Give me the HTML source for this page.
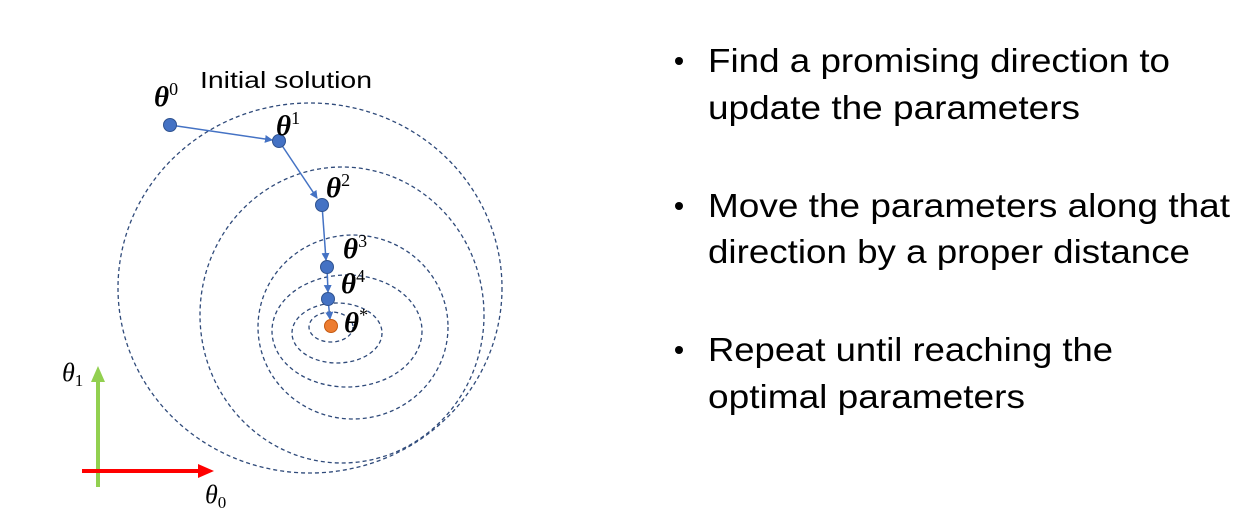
<!DOCTYPE html>
<html><head><meta charset="utf-8"><style>
html,body{margin:0;padding:0;background:#fff;}
svg{display:block;}
</style></head><body>
<svg width="1250" height="525" viewBox="0 0 1250 525" xmlns="http://www.w3.org/2000/svg">
<defs>
<marker id="ab" markerWidth="8" markerHeight="8" refX="7" refY="4" orient="auto" markerUnits="userSpaceOnUse"><path d="M0,0 L8,4 L0,8 z" fill="#4472C4"/></marker>
</defs>
<g fill="none" stroke="#2F4A7A" stroke-width="1.3" stroke-dasharray="4,3">
<ellipse cx="310" cy="288" rx="192" ry="185"/>
<ellipse cx="342" cy="315" rx="142" ry="148"/>
<ellipse cx="353" cy="327" rx="95" ry="92"/>
<ellipse cx="347" cy="331" rx="75" ry="56"/>
<ellipse cx="337" cy="333" rx="45" ry="30"/>
<ellipse cx="331" cy="327" rx="22" ry="15"/>
</g>
<g stroke="#4472C4" stroke-width="1.5" fill="none" marker-end="url(#ab)">
<line x1="170" y1="125" x2="272" y2="140"/>
<line x1="279" y1="141" x2="317" y2="198"/>
<line x1="322" y1="205" x2="326" y2="260"/>
<line x1="327" y1="267" x2="328" y2="292"/>
<line x1="328" y1="299" x2="330" y2="319"/>
</g>
<g fill="#4472C4" stroke="#2F528F" stroke-width="1">
<circle cx="170" cy="125" r="6.5"/>
<circle cx="279" cy="141" r="6.5"/>
<circle cx="322" cy="205" r="6.5"/>
<circle cx="327" cy="267" r="6.5"/>
<circle cx="328" cy="299" r="6.5"/>
</g>
<circle cx="331" cy="326" r="6.5" fill="#ED7D31" stroke="#C55A11" stroke-width="1"/>
<g font-family="Liberation Serif, serif" font-weight="bold" font-style="italic" font-size="29" fill="#000">
<text x="154" y="106">θ<tspan font-size="18" font-weight="normal" font-style="normal" dy="-11">0</tspan></text>
<text x="276" y="135">θ<tspan font-size="18" font-weight="normal" font-style="normal" dy="-11">1</tspan></text>
<text x="326" y="197">θ<tspan font-size="18" font-weight="normal" font-style="normal" dy="-11">2</tspan></text>
<text x="343" y="258">θ<tspan font-size="18" font-weight="normal" font-style="normal" dy="-11">3</tspan></text>
<text x="341" y="293">θ<tspan font-size="18" font-weight="normal" font-style="normal" dy="-11">4</tspan></text>
<text x="344" y="332">θ<tspan font-size="18" font-weight="normal" font-style="normal" dy="-11">*</tspan></text>
</g>
<text x="200" y="88" font-family="Liberation Sans, sans-serif" font-size="23" textLength="172" lengthAdjust="spacingAndGlyphs" fill="#000">Initial solution</text>
<line x1="98" y1="487" x2="98" y2="380" stroke="#92D050" stroke-width="4"/>
<path d="M91,382 L98,366 L105,382 z" fill="#92D050"/>
<line x1="82" y1="471" x2="200" y2="471" stroke="#FF0000" stroke-width="4"/>
<path d="M198,464 L214,471 L198,478 z" fill="#FF0000"/>
<g font-family="Liberation Serif, serif" font-style="italic" font-size="26" fill="#000">
<text x="62" y="381">θ<tspan font-size="17" font-style="normal" dy="5">1</tspan></text>
<text x="205" y="503">θ<tspan font-size="17" font-style="normal" dy="5">0</tspan></text>
</g>
<g font-family="Liberation Sans, sans-serif" font-size="33" fill="#000">
<circle cx="679" cy="61" r="4"/>
<circle cx="679" cy="206" r="4"/>
<circle cx="679" cy="350" r="4"/>
<text x="708" y="72" textLength="462" lengthAdjust="spacingAndGlyphs">Find a promising direction to</text>
<text x="708" y="119" textLength="372" lengthAdjust="spacingAndGlyphs">update the parameters</text>
<text x="708" y="217" textLength="522" lengthAdjust="spacingAndGlyphs">Move the parameters along that</text>
<text x="708" y="263" textLength="482" lengthAdjust="spacingAndGlyphs">direction by a proper distance</text>
<text x="708" y="361" textLength="405" lengthAdjust="spacingAndGlyphs">Repeat until reaching the</text>
<text x="708" y="408" textLength="317" lengthAdjust="spacingAndGlyphs">optimal parameters</text>
</g>
</svg>
</body></html>
